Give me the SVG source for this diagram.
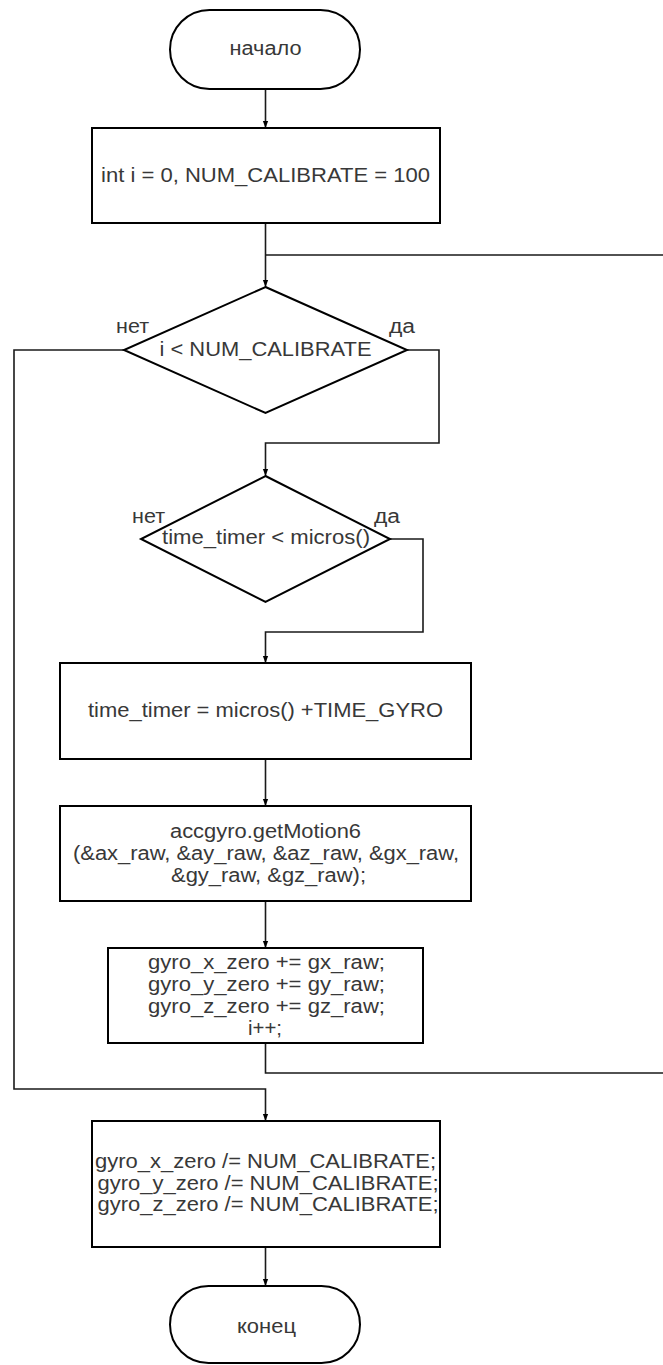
<svg xmlns="http://www.w3.org/2000/svg" width="663" height="1365" viewBox="0 0 663 1365">
<style>
.shape{fill:#fff;stroke:#000;stroke-width:2}
.conn{fill:none;stroke:#1a1a1a;stroke-width:1.6}
.t{font-family:"Liberation Sans",Arial,sans-serif;font-size:20px;fill:#383838;text-anchor:middle}
</style>
<defs>
<marker id="arr" viewBox="0 0 8 8" refX="8" refY="4" markerWidth="7" markerHeight="7" markerUnits="userSpaceOnUse" orient="auto">
<path d="M0,1 L8,4 L0,7 z" fill="#000"/>
</marker>
</defs>
<rect width="663" height="1365" fill="#fff"/>
<g id="connectors">
<path class="conn" d="M265.5,89 V128" marker-end="url(#arr)"/>
<path class="conn" d="M265.5,223 V287" marker-end="url(#arr)"/>
<path class="conn" d="M265.5,1043 V1073 H670 V255 H265.5"/>
<path class="conn" d="M407,350 H439 V443 H265.5 V476" marker-end="url(#arr)"/>
<path class="conn" d="M124,350 H14 V1089 H265.5 V1121" marker-end="url(#arr)"/>
<path class="conn" d="M390,539 H423 V632 H265.5 V663" marker-end="url(#arr)"/>
<path class="conn" d="M265.5,759 V806" marker-end="url(#arr)"/>
<path class="conn" d="M265.5,901 V948" marker-end="url(#arr)"/>
<path class="conn" d="M265.5,1247 V1286" marker-end="url(#arr)"/>
</g>
<g id="start">
<rect class="shape" x="170" y="10" width="190" height="79" rx="39.5"/>
<text class="t" x="265.5" y="55" textLength="72" lengthAdjust="spacingAndGlyphs">начало</text>
</g>
<g id="init">
<rect class="shape" x="92" y="128" width="348" height="95"/>
<text class="t" x="265.5" y="182" textLength="329" lengthAdjust="spacingAndGlyphs">int i = 0, NUM_CALIBRATE = 100</text>
</g>
<g id="cond1">
<polygon class="shape" points="265.5,287 407,350 265.5,413 124,350"/>
<text class="t" x="265.5" y="356" textLength="212" lengthAdjust="spacingAndGlyphs">i &lt; NUM_CALIBRATE</text>
<text class="t" x="132.5" y="333" textLength="33" lengthAdjust="spacingAndGlyphs">нет</text>
<text class="t" x="402" y="333" textLength="26" lengthAdjust="spacingAndGlyphs">да</text>
</g>
<g id="cond2">
<polygon class="shape" points="265.5,476 390,539 265.5,602 141,539"/>
<text class="t" x="266" y="544" textLength="208" lengthAdjust="spacingAndGlyphs">time_timer &lt; micros()</text>
<text class="t" x="148.5" y="523" textLength="33" lengthAdjust="spacingAndGlyphs">нет</text>
<text class="t" x="387" y="523" textLength="26" lengthAdjust="spacingAndGlyphs">да</text>
</g>
<g id="settimer">
<rect class="shape" x="60" y="663" width="411" height="96"/>
<text class="t" x="265.5" y="717" textLength="355" lengthAdjust="spacingAndGlyphs">time_timer = micros() +TIME_GYRO</text>
</g>
<g id="getmotion">
<rect class="shape" x="60" y="806" width="411" height="95"/>
<text class="t" x="265.5" y="838" textLength="191" lengthAdjust="spacingAndGlyphs">accgyro.getMotion6</text>
<text class="t" x="266" y="860" textLength="386" lengthAdjust="spacingAndGlyphs">(&amp;ax_raw, &amp;ay_raw, &amp;az_raw, &amp;gx_raw,</text>
<text class="t" x="268.5" y="882" textLength="195" lengthAdjust="spacingAndGlyphs">&amp;gy_raw, &amp;gz_raw);</text>
</g>
<g id="accumulate">
<rect class="shape" x="108" y="948" width="315" height="95"/>
<text class="t" x="266.5" y="969" textLength="237" lengthAdjust="spacingAndGlyphs">gyro_x_zero += gx_raw;</text>
<text class="t" x="266.5" y="991" textLength="237" lengthAdjust="spacingAndGlyphs">gyro_y_zero += gy_raw;</text>
<text class="t" x="266.5" y="1013" textLength="237" lengthAdjust="spacingAndGlyphs">gyro_z_zero += gz_raw;</text>
<text class="t" x="265" y="1035" textLength="34" lengthAdjust="spacingAndGlyphs">i++;</text>
</g>
<g id="average">
<rect class="shape" x="92" y="1121" width="348" height="126"/>
<text class="t" x="265.5" y="1168" textLength="341" lengthAdjust="spacingAndGlyphs">gyro_x_zero /= NUM_CALIBRATE;</text>
<text class="t" x="268" y="1190" textLength="341" lengthAdjust="spacingAndGlyphs">gyro_y_zero /= NUM_CALIBRATE;</text>
<text class="t" x="268" y="1211" textLength="341" lengthAdjust="spacingAndGlyphs">gyro_z_zero /= NUM_CALIBRATE;</text>
</g>
<g id="end">
<rect class="shape" x="170" y="1286" width="190" height="77" rx="38.5"/>
<text class="t" x="266.5" y="1333" textLength="59" lengthAdjust="spacingAndGlyphs">конец</text>
</g>
</svg>
